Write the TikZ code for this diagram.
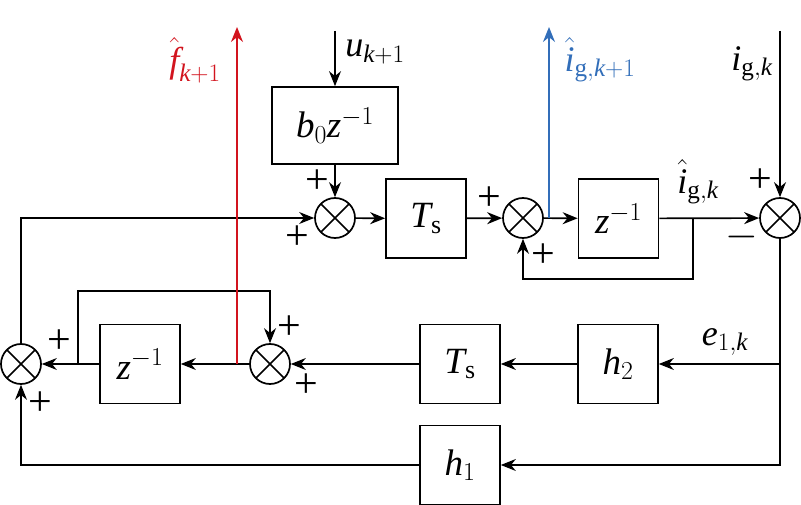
\RequirePackage{fix-cm}
\documentclass[tikz,border=0pt]{standalone}
\usepackage{amsmath}
\usepackage{fontspec}
\setmainfont{Liberation Serif}
\usetikzlibrary{arrows.meta}
\definecolor{myred}{RGB}{210,20,30}
\definecolor{myblue}{RGB}{50,110,185}
\newcommand\vi[1]{\textit{#1}}
\begin{document}
\begin{tikzpicture}[x=1pt,y=-1pt, line width=1.7pt,
 >={Stealth[length=15pt,width=12pt]},
 blk/.style={draw, minimum width=80pt, minimum height=79pt, inner sep=0pt, font=\fontsize{37}{42}\selectfont},
 sumc/.style={draw, circle, minimum size=40pt, inner sep=0pt, path picture={\draw[line width=1.7pt] (path picture bounding box.south west) -- (path picture bounding box.north east) (path picture bounding box.north west) -- (path picture bounding box.south east);}},
 lbl/.style={inner sep=0pt, font=\fontsize{36}{42}\selectfont},
 sgn/.style={inner sep=0pt, font=\fontsize{42}{46}\selectfont}]
\useasboundingbox (0,0) rectangle (801,505);
\node[sumc] (s1) at (335,218) {};
\node[blk, minimum width=126pt, minimum height=77pt] (b0) at (335,125.5) {$\vi{b}_0\vi{z}^{-1}$};
\node[blk] (ts1) at (426,218.5) {$\vi{T}_\text{s}$};
\node[sumc] (s2) at (523,218) {};
\node[blk] (z1) at (618.5,218.5) {$\vi{z}^{-1}$};
\node[sumc] (s3) at (780,218) {};
\node[blk] (h2) at (618,364) {$\vi{h}_2$};
\node[blk] (ts2) at (460,364) {$\vi{T}_\text{s}$};
\node[sumc] (s4) at (270,364) {};
\node[blk] (z2) at (140,364) {$\vi{z}^{-1}$};
\node[sumc] (s5) at (21,364) {};
\node[blk] (h1) at (460,465) {$\vi{h}_1$};
\coordinate (uin) at (335,31);
\coordinate (ig) at (780,31);
\coordinate (bl) at (549,218);
\coordinate (blt) at (549,27);
\coordinate (rd) at (237,364);
\coordinate (rdt) at (237,27);
\coordinate (br1) at (693,218);
\coordinate (fb1) at (693,279);
\coordinate (br2) at (780,364);
\coordinate (br3) at (78,364);
\coordinate (fb2) at (78,291);
\draw[->] (uin) -- (b0);
\draw[->] (b0) -- (s1);
\draw[->] (s5) |- (s1);
\draw[->] (s1) -- (ts1);
\draw[->] (ts1) -- (s2);
\draw[->] (s2) -- (z1);
\draw[->] (z1) -- (s3);
\draw[->] (br1) -- (fb1) -| (s2);
\draw[->] (ig) -- (s3);
\draw (s3) -- (br2);
\draw[->] (br2) -- (h2);
\draw[->] (br2) |- (h1);
\draw[->] (h2) -- (ts2);
\draw[->] (ts2) -- (s4);
\draw[->] (s4) -- (z2);
\draw[->] (z2) -- (s5);
\draw[->] (br3) -- (fb2) -| (s4);
\draw[->] (h1) -| (s5);
\draw[->,myblue] (bl) -- (blt);
\draw[->,myred] (rd) -- (rdt);
\node[lbl, text=myred] (lf) at (195,60) {$\hat{\vi{f}}_{\vi{k}+1}$};
\node[lbl] (lu) at (375,52) {$\vi{u}_{\vi{k}+1}$};
\node[lbl, text=myblue] (lig1) at (600,60) {$\hat{\vi{i}}_{\text{g},\vi{k}+1}$};
\node[lbl] (lig) at (752,64) {$\vi{i}_{\text{g},\vi{k}}$};
\node[lbl] (ligh) at (698,182) {$\hat{\vi{i}}_{\text{g},\vi{k}}$};
\node[lbl] (le) at (725,342) {$\vi{e}_{1,\vi{k}}$};
\node[sgn] (p1) at (317,182) {+};
\node[sgn] (p2) at (297,238) {+};
\node[sgn] (p3) at (489,199) {+};
\node[sgn] (p4) at (543,256) {+};
\node[sgn] (p5) at (760,181) {+};
\node[sgn] (p6) at (742,237) {$-$};
\node[sgn] (p7) at (289,328) {+};
\node[sgn] (p8) at (306,386) {+};
\node[sgn] (p9) at (59,342) {+};
\node[sgn] (p10) at (40,404) {+};
\end{tikzpicture}
\end{document}
